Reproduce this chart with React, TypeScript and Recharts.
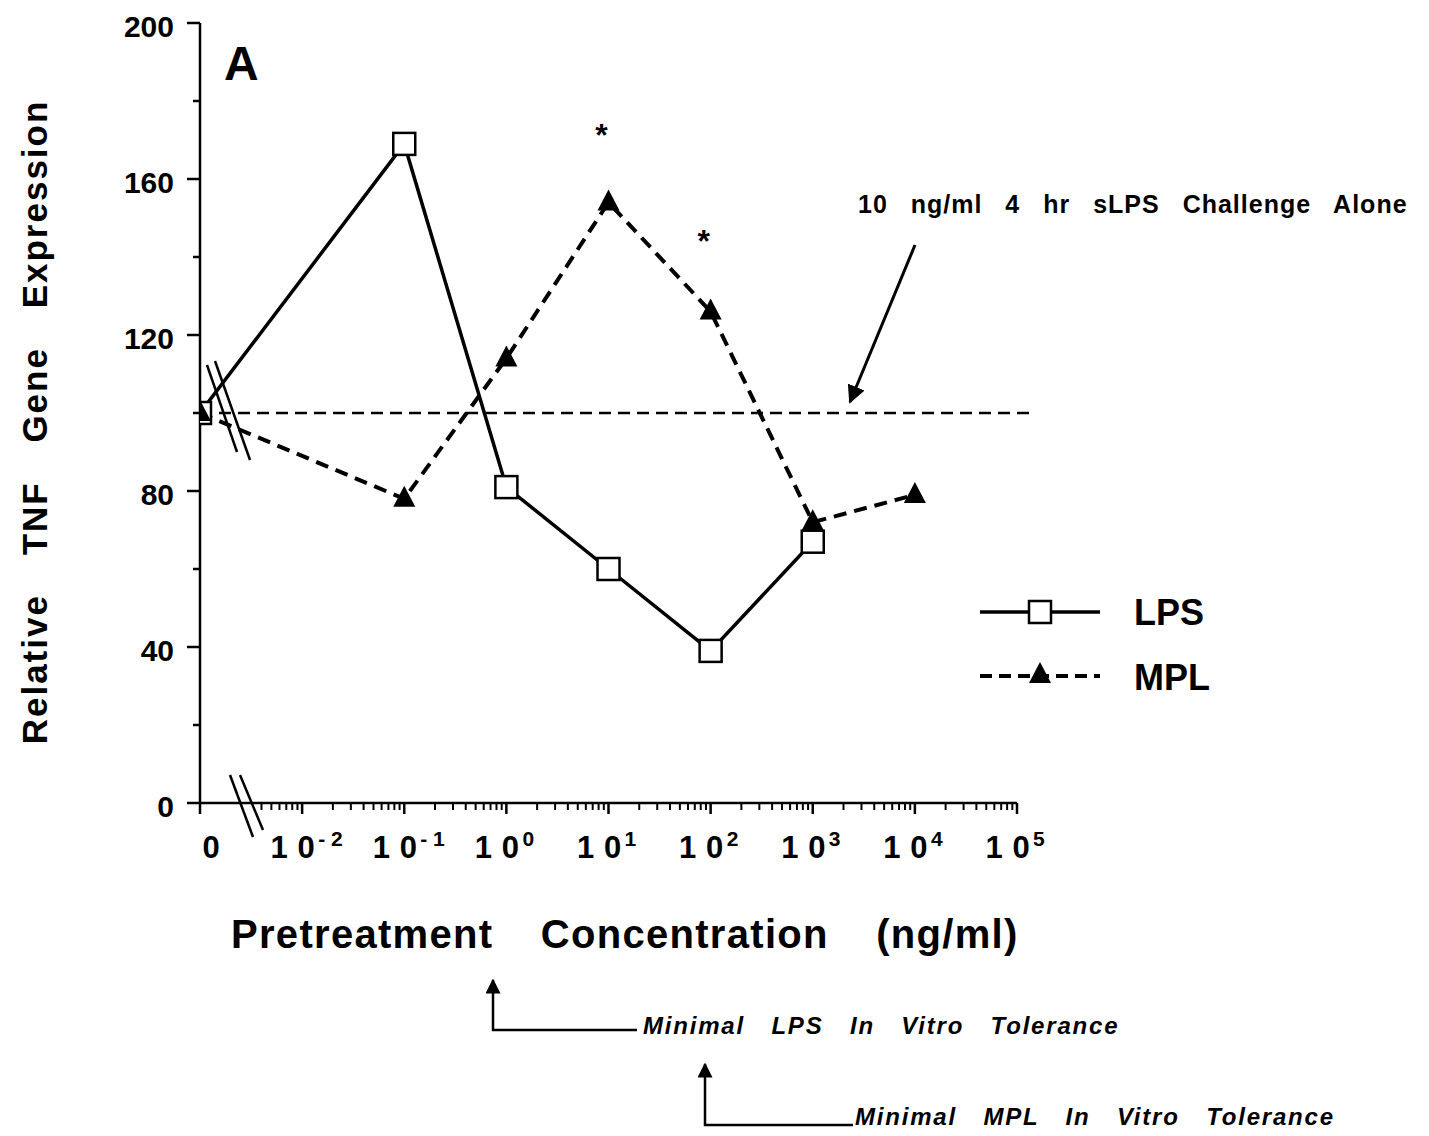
import React from 'react';
import { LineChart, Line, XAxis, YAxis, ReferenceLine, ReferenceDot } from 'recharts';

// ---- data ----
const concentrations = [0, 0.1, 1, 10, 100, 1000, 10000]; // ng/ml
const lpsValues: (number | null)[] = [100, 169, 81, 60, 39, 67, null];
const mplValues: (number | null)[] = [100, 78, 114, 154, 126, 72, 79];
const starConcentrations = [10, 100];
const starHeights = [173, 146];
const challengeLevel = 100;
const yTicks = [0, 20, 40, 60, 80, 100, 120, 140, 160, 180, 200];
const yLabelTicks = [0, 40, 80, 120, 160, 200];
const xDecades = [-2, -1, 0, 1, 2, 3, 4, 5];
const ZERO_POS = -3; // position of the "0" concentration on the broken log axis

const FONT = '"Liberation Sans", Arial, Helvetica, sans-serif';

const pos = (c: number) => (c === 0 ? ZERO_POS : Math.log10(c));

const data = concentrations.map((c, i) => ({
  x: pos(c),
  lps: lpsValues[i],
  mpl: mplValues[i],
}));

const minorTicks: number[] = [];
for (let d = -3; d < 5; d++) {
  for (let k = d === -3 ? 4 : 2; k <= 9; k++) minorTicks.push(d + Math.log10(k));
}
const xTicks = [ZERO_POS, ...xDecades, ...minorTicks].sort((a, b) => a - b);

const XTick = (props: any) => {
  const { x, y, payload } = props;
  const v = payload.value as number;
  const isMajor = Math.abs(v - Math.round(v)) < 1e-6;
  if (!isMajor) {
    return <line x1={x} x2={x} y1={y} y2={y + 7} stroke="#000" strokeWidth={2} />;
  }
  const exp = Math.round(v);
  const common = { fontFamily: FONT, fontWeight: 'bold' as const, fill: '#000' };
  return (
    <g>
      <line x1={x} x2={x} y1={y} y2={y + 11} stroke="#000" strokeWidth={2.5} />
      {exp === ZERO_POS ? (
        <text x={x + 11} y={y + 55} textAnchor="middle" fontSize={31} {...common}>
          0
        </text>
      ) : (
        <g>
          <text x={x - 23} y={y + 55} textAnchor="middle" fontSize={31} {...common}>1</text>
          <text x={x + 4} y={y + 55} textAnchor="middle" fontSize={31} {...common}>0</text>
          <text x={x + 16} y={y + 43} textAnchor="start" fontSize={21} {...common}>
            {exp < 0 ? '- ' + Math.abs(exp) : String(exp)}
          </text>
        </g>
      )}
    </g>
  );
};

const YTick = (props: any) => {
  const { x, y, payload } = props;
  const v = payload.value as number;
  const isMajor = yLabelTicks.includes(v);
  return (
    <g>
      <line x1={x - (isMajor ? 13 : 7)} x2={x} y1={y} y2={y} stroke="#000" strokeWidth={2.5} />
      {isMajor && (
        <text x={x - 26} y={y + 14} textAnchor="end" fontFamily={FONT} fontWeight="bold" fontSize={30} fill="#000">
          {v}
        </text>
      )}
    </g>
  );
};

const SquareDot = (props: any) => {
  const { cx, cy, value } = props;
  if (value == null || cx == null || cy == null) return <g />;
  return <rect x={cx - 11} y={cy - 11} width={22} height={22} fill="#fff" stroke="#000" strokeWidth={2.5} />;
};

const TriangleDot = (props: any) => {
  const { cx, cy, value } = props;
  if (value == null || cx == null || cy == null) return <g />;
  return <polygon points={`${cx},${cy - 13} ${cx - 11},${cy + 8} ${cx + 11},${cy + 8}`} fill="#000" stroke="none" />;
};

const Star = (props: any) => {
  const { cx, cy } = props;
  return (
    <text x={cx - 7} y={cy + 18} textAnchor="middle" fontFamily={FONT} fontWeight="bold" fontSize={32} fill="#000">
      *
    </text>
  );
};

const Overlay = () => (
  <svg width={1429} height={1136} style={{ position: 'absolute', left: 0, top: 0, pointerEvents: 'none' }}>
    <defs>
      <marker id="ah" viewBox="0 0 10 10" refX="9" refY="5" markerWidth="6" markerHeight="6" orient="auto">
        <path d="M0,0 L10,5 L0,10 z" fill="#000" />
      </marker>
    </defs>
    {/* panel letter */}
    <text x={224} y={80} fontFamily={FONT} fontWeight="bold" fontSize={48} fill="#000">A</text>
    {/* y axis title */}
    <text
      transform="translate(47,422) rotate(-90)"
      textAnchor="middle"
      fontFamily={FONT}
      fontWeight="bold"
      fontSize={35}
      letterSpacing={2}
      wordSpacing={27}
      fill="#000"
    >
      Relative TNF Gene Expression
    </text>
    {/* x axis title */}
    <text x={231} y={948} fontFamily={FONT} fontWeight="bold" fontSize={40} letterSpacing={1.3} wordSpacing={35} fill="#000">
      Pretreatment Concentration (ng/ml)
    </text>
    {/* axis break marks */}
    <line x1={230} y1={775} x2={253} y2={837} stroke="#000" strokeWidth={2.5} />
    <line x1={240} y1={775} x2={263} y2={830} stroke="#000" strokeWidth={2.5} />
    {/* line break marks */}
    <line x1={207} y1={365} x2={237} y2={452} stroke="#000" strokeWidth={2.5} />
    <line x1={215} y1={361} x2={250} y2={460} stroke="#000" strokeWidth={2.5} />
    {/* challenge annotation */}
    <text x={858} y={213} fontFamily={FONT} fontWeight="bold" fontSize={25} letterSpacing={1} wordSpacing={15} fill="#000">
      10 ng/ml 4 hr sLPS Challenge Alone
    </text>
    <line x1={915} y1={245} x2={850} y2={402} stroke="#000" strokeWidth={3} markerEnd="url(#ah)" />
    {/* legend */}
    <line x1={980} y1={612} x2={1100} y2={612} stroke="#000" strokeWidth={3.5} />
    <rect x={1029} y={601} width={22} height={22} fill="#fff" stroke="#000" strokeWidth={2.5} />
    <text x={1134} y={625} fontFamily={FONT} fontWeight="bold" fontSize={36} fill="#000">LPS</text>
    <line x1={980} y1={676} x2={1100} y2={676} stroke="#000" strokeWidth={4} strokeDasharray="12 7" />
    <polygon points="1040,662 1029,683 1051,683" fill="#000" />
    <text x={1134} y={690} fontFamily={FONT} fontWeight="bold" fontSize={36} fill="#000">MPL</text>
    {/* tolerance annotations */}
    <polyline points="637,1030 493,1030 493,980" fill="none" stroke="#000" strokeWidth={2.5} markerEnd="url(#ah)" />
    <text x={643} y={1034} fontFamily={FONT} fontWeight="bold" fontStyle="italic" fontSize={24} letterSpacing={1.8} wordSpacing={18} fill="#000">
      Minimal LPS In Vitro Tolerance
    </text>
    <polyline points="853,1125 705,1125 705,1064" fill="none" stroke="#000" strokeWidth={2.5} markerEnd="url(#ah)" />
    <text x={855} y={1125} fontFamily={FONT} fontWeight="bold" fontStyle="italic" fontSize={24} letterSpacing={1.8} wordSpacing={18} fill="#000">
      Minimal MPL In Vitro Tolerance
    </text>
  </svg>
);

export default function App() {
  return (
    <div style={{ position: 'absolute', left: 0, top: 0, width: 1429, height: 1136, background: '#fff' }}>
      <LineChart
        width={1429}
        height={1136}
        data={data}
        margin={{ top: 23, right: 412, bottom: 273, left: 100 }}
      >
        <XAxis
          dataKey="x"
          type="number"
          domain={[ZERO_POS, 5]}
          ticks={xTicks}
          interval={0}
          tick={(p: any) => <XTick {...p} />}
          tickSize={0}
          tickMargin={0}
          tickLine={false}
          axisLine={{ stroke: '#000', strokeWidth: 2.5 }}
          height={60}
          allowDataOverflow
        />
        <YAxis
          type="number"
          domain={[0, 200]}
          ticks={yTicks}
          interval={0}
          tick={(p: any) => <YTick {...p} />}
          tickSize={0}
          tickMargin={0}
          tickLine={false}
          axisLine={{ stroke: '#000', strokeWidth: 2.5 }}
          width={100}
        />
        <ReferenceLine
          segment={[
            { x: ZERO_POS, y: challengeLevel },
            { x: 5.13, y: challengeLevel },
          ]}
          stroke="#000"
          strokeWidth={2.5}
          strokeDasharray="12 7"
          ifOverflow="visible"
        />
        <Line
          dataKey="lps"
          stroke="#000"
          strokeWidth={3.5}
          dot={(p: any) => <SquareDot key={'l' + p.index} {...p} />}
          activeDot={false}
          isAnimationActive={false}
        />
        <Line
          dataKey="mpl"
          stroke="#000"
          strokeWidth={4}
          strokeDasharray="13 8"
          dot={(p: any) => <TriangleDot key={'m' + p.index} {...p} />}
          activeDot={false}
          isAnimationActive={false}
        />
        {starConcentrations.map((c, i) => (
          <ReferenceDot key={c} x={pos(c)} y={starHeights[i]} r={0} shape={(p: any) => <Star {...p} />} ifOverflow="visible" />
        ))}
      </LineChart>
      <Overlay />
    </div>
  );
}
